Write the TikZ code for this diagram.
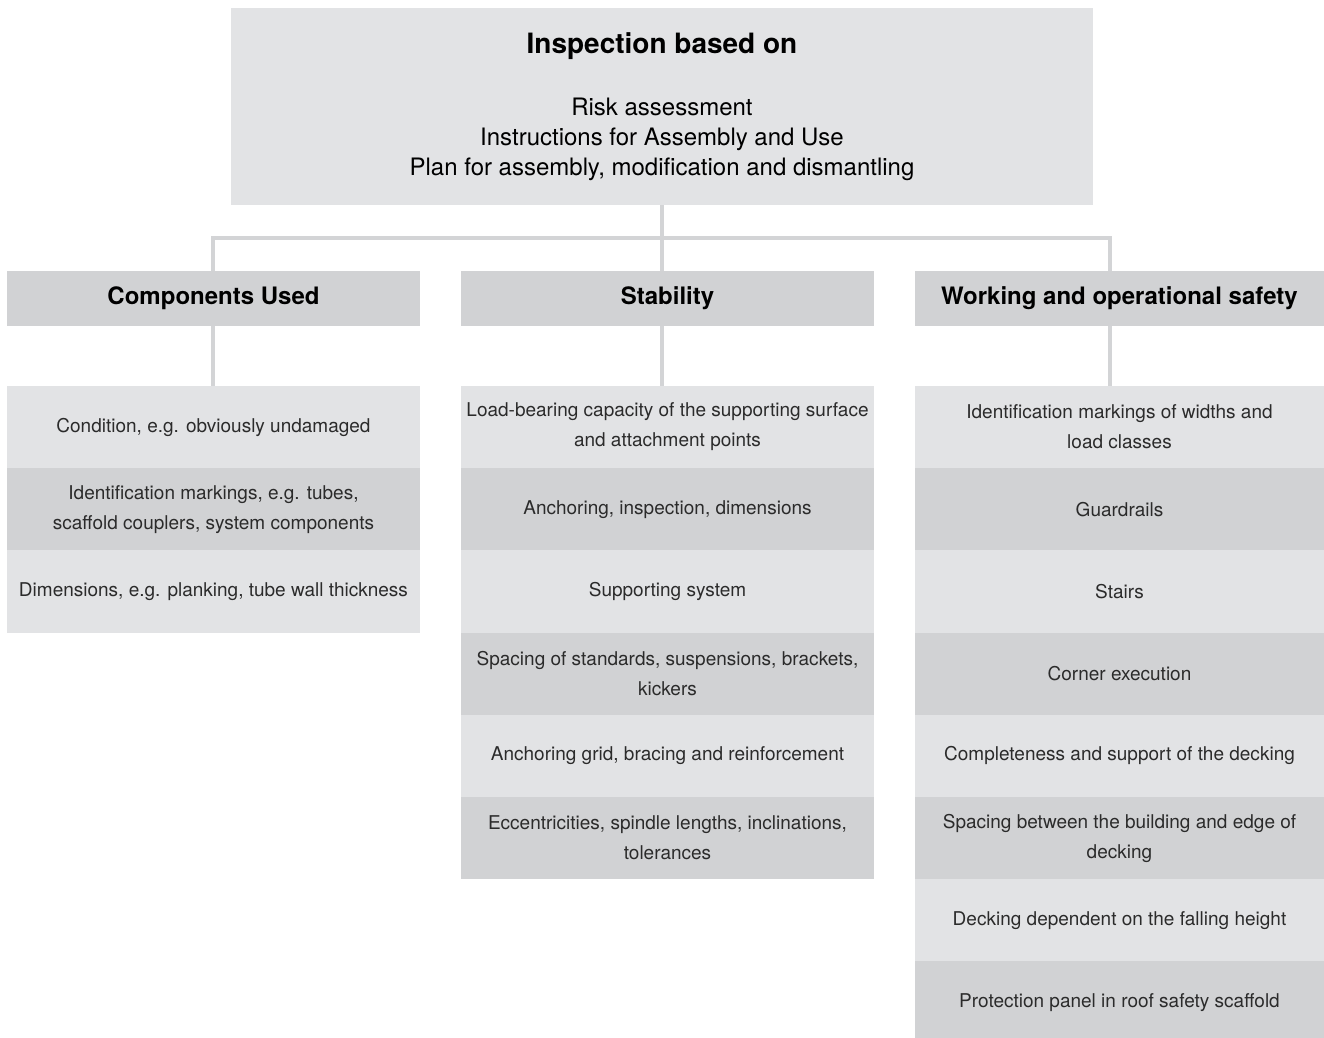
\documentclass[tikz,border=0pt]{standalone}
\usepackage{fontspec}
\setmainfont{TeX Gyre Heros}
\usetikzlibrary{positioning}
\definecolor{boxlight}{HTML}{E2E3E5}
\definecolor{boxdark}{HTML}{D1D2D4}
\definecolor{linkgray}{HTML}{D3D4D6}
\definecolor{textgray}{HTML}{2B2B2B}
\tikzset{
    topbox/.style={fill=boxlight, minimum width=862pt, minimum height=197pt, inner sep=0pt,
        outer sep=0pt, align=center, font=\fontsize{24}{30}\selectfont},
    headbox/.style={fill=boxdark, minimum width=#1, minimum height=55pt, inner sep=0pt,
        outer sep=0pt, text height=17pt, text depth=5pt, font=\fontsize{24}{28}\bfseries\selectfont},
    headbox/.default={413pt},
    itembox/.style={minimum width=#1, minimum height=82.2pt, inner sep=0pt, outer sep=0pt,
        align=center, text=textgray, font=\fontsize{19}{30}\selectfont},
    itembox/.default={413pt},
    lightitem/.style={itembox=#1, fill=boxlight},
    lightitem/.default={413pt},
    darkitem/.style={itembox=#1, fill=boxdark},
    darkitem/.default={413pt},
    link/.style={draw=linkgray, line width=4pt},
}

\begin{document}
\begin{tikzpicture}[x=1pt, y=-1pt]
    \useasboundingbox (0,0) rectangle (1324,1037);
    % root
    \node[topbox] (top) at (662,106.5)
        {{\fontsize{28}{30}\bfseries\selectfont Inspection based on}\\[32pt]
         Risk assessment\\
         Instructions for Assembly and Use\\
         Plan for assembly, modification and dismantling};
    % column heads
    \node[headbox] (h1) at (213.5,298.5) {Components Used};
    \node[headbox] (h2) at (667.5,298.5) {Stability};
    \node[headbox=409pt] (h3) at (1119.5,298.5) {Working and operational safety};
    % junctions
    \coordinate (j1) at (213,238);
    \coordinate (jm) at (662,238);
    \coordinate (j3) at (1110,238);
    \draw[link] (h1.north -| j1) -- (j1) -- (j3) -- (h3.north -| j3);
    \draw[link] (top.south) -- (jm) -- (h2.north -| jm);

    % components used
    \node[lightitem] (comp1) at (213.5,427.1) {Condition, e.g. obviously undamaged};
    \node[darkitem, below=0pt of comp1] (comp2) {Identification markings, e.g. tubes,\\scaffold couplers, system components};
    \node[lightitem, below=0pt of comp2] (comp3) {Dimensions, e.g. planking, tube wall thickness};

    % stability
    \node[lightitem] (stab1) at (667.5,427.1) {Load-bearing capacity of the supporting surface\\and attachment points};
    \node[darkitem, below=0pt of stab1] (stab2) {Anchoring, inspection, dimensions};
    \node[lightitem, below=0pt of stab2] (stab3) {Supporting system};
    \node[darkitem, below=0pt of stab3] (stab4) {Spacing of standards, suspensions, brackets,\\kickers};
    \node[lightitem, below=0pt of stab4] (stab5) {Anchoring grid, bracing and reinforcement};
    \node[darkitem, below=0pt of stab5] (stab6) {Eccentricities, spindle lengths, inclinations,\\tolerances};

    % working and operational safety
    \node[lightitem=409pt] (safe1) at (1119.5,427.1) {Identification markings of widths and\\load classes};
    \node[darkitem=409pt, below=0pt of safe1] (safe2) {Guardrails};
    \node[lightitem=409pt, below=0pt of safe2] (safe3) {Stairs};
    \node[darkitem=409pt, below=0pt of safe3] (safe4) {Corner execution};
    \node[lightitem=409pt, below=0pt of safe4] (safe5) {Completeness and support of the decking};
    \node[darkitem=409pt, below=0pt of safe5] (safe6) {Spacing between the building and edge of\\decking};
    \node[lightitem=409pt, below=0pt of safe6] (safe7) {Decking dependent on the falling height};
    \node[darkitem=409pt, below=0pt of safe7] (safe8) {Protection panel in roof safety scaffold};

    % heads down to their lists
    \draw[link] (h1.south -| j1) -- (comp1.north -| j1);
    \draw[link] (h2.south -| jm) -- (stab1.north -| jm);
    \draw[link] (h3.south -| j3) -- (safe1.north -| j3);
\end{tikzpicture}
\end{document}
